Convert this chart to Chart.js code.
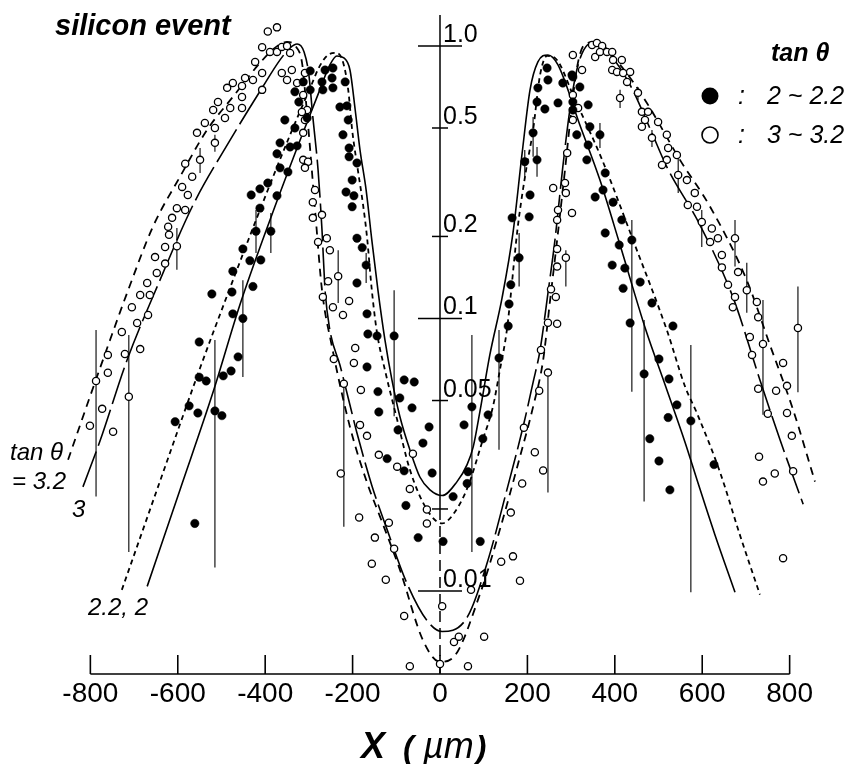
<!DOCTYPE html>
<html>
<head>
<meta charset="utf-8">
<script src="https://cdn.jsdelivr.net/npm/chart.js@4.4.1/dist/chart.umd.min.js"></script>
<style>
  html, body { margin: 0; padding: 0; background: #fff; }
  #wrap { width: 852px; height: 764px; }
</style>
</head>
<body>
<div id="wrap"><canvas id="chart" width="852" height="764"></canvas></div>
<script>
// Data: x in micrometres, y normalised (log scale)

const xTicks = [-800, -600, -400, -200, 0, 200, 400, 600, 800];
const yTicks = [1.0, 0.5, 0.2, 0.1, 0.05, 0.01];
const yTickLabels = ['1.0', '0.5', '0.2', '0.1', '0.05', '0.01'];
const yMajor = [1.0, 0.1, 0.01];
const yMinor = [0.5, 0.2, 0.05, 0.02];

// open circles: tan theta 3 ~ 3.2
const openX = [-394,-373,-407,-423,-407,-389,-373,-362,-350,-343,-339,-362,-350,-327,-313,-304,-313,-313,-302,-309,-286,-291,-291,-279,
  -407,-428,-446,-453,-474,-487,-453,-453,-480,-492,-508,-519,-515,-538,-556,-515,-549,-583,-567,-590,-577,-602,-583,-613,-622,-620,-602,-629,-652,-629,-648,-670,-686,-664,-705,-668,-693,-728,-686,-760,-721,-760,-787,-712,-773,-801,-748,
  -309,-316,-309,-270,-259,-252,-256,-233,-268,-245,-208,-222,-194,-243,-197,-220,-181,-183,-167,-227,-140,-98,-62,-69,-30,-30,-185,-117,-149,-105,-156,-124,71,5,-82,32,43,101,-69,0,64,
  231,247,227,192,217,236,188,162,140,167,183,
  304,291,286,259,288,270,268,302,268,268,288,254,265,247,268,325,304,316,304,
  348,359,371,355,366,382,394,396,416,394,405,419,435,428,453,412,462,476,469,499,462,485,519,522,542,519,508,545,565,583,567,588,599,622,636,618,645,675,645,682,659,702,675,670,725,728,709,739,819,714,785,728,769,794,750,794,805,730,739,766,808,785];
const openY = [1.13,1.17,0.99,0.874,0.796,0.951,0.951,0.992,1.0,0.943,0.816,0.796,0.75,0.731,0.661,0.582,0.48,0.382,0.376,0.357,0.296,0.267,0.234,0.191,
  0.69,0.75,0.763,0.713,0.731,0.702,0.65,0.592,0.592,0.544,0.623,0.582,0.5,0.522,0.48,0.441,0.382,0.37,0.331,0.304,0.284,0.254,0.25,0.234,0.217,0.203,0.184,0.183,0.168,0.159,0.147,0.135,0.122,0.122,0.11,0.103,0.0963,0.0892,0.0772,0.0735,0.0741,0.0632,0.059,0.0516,0.0466,0.0404,0.0384,
  0.796,0.572,0.535,0.24,0.197,0.178,0.137,0.143,0.12,0.11,0.116,0.103,0.0779,0.071,0.0687,0.0576,0.0547,0.0407,0.0371,0.027,0.0316,0.0286,0.0319,0.0237,0.0199,0.0177,0.0186,0.0178,0.0157,0.0143,0.0126,0.011,0.0101,0.0088,0.0081,0.0065,0.0068,0.0068,0.0053,0.0054,0.0053,
  0.0766,0.0633,0.0543,0.0397,0.0323,0.0277,0.0248,0.0194,0.0128,0.0134,0.0109,
  0.927,0.405,0.314,0.301,0.289,0.25,0.23,0.244,0.18,0.155,0.167,0.128,0.12,0.0965,0.0957,0.816,0.661,0.592,0.535,
  1.008,1.025,1.0,0.911,0.951,0.951,0.951,0.889,0.889,0.816,0.803,0.796,0.803,0.738,0.673,0.644,0.573,0.573,0.535,0.526,0.505,0.46,0.472,0.422,0.398,0.382,0.366,0.336,0.322,0.289,0.261,0.257,0.226,0.214,0.197,0.191,0.171,0.197,0.154,0.148,0.133,0.127,0.12,0.11,0.115,0.101,0.0855,0.0806,0.0923,0.0735,0.0687,0.0552,0.0543,0.0566,0.0447,0.045,0.0371,0.0311,0.0252,0.027,0.0275,0.0132];

// filled circles: tan theta 2 ~ 2.2
const filledX = [-297,-313,-297,-332,-323,-304,-355,-332,-366,-343,-327,-373,-366,-348,-394,-412,-432,-373,-412,-421,-387,-451,-435,-410,-474,-476,-428,-522,-474,-451,-551,
  -551,-535,-496,-478,-462,-574,-554,-606,-515,-499,-561,
  -263,-245,-270,-247,-268,-245,-217,-229,-213,-210,-222,-208,-208,-190,-201,-215,-197,-201,-190,-178,-169,-190,-167,-165,-144,-105,
  -167,-82,-59,-142,-92,-64,-140,-96,-25,-39,-121,-82,-18,30,-78,-50,7,92,73,55,64,62,110,98,135,
  245,247,224,222,240,270,281,302,213,194,222,206,165,204,181,162,158,156,
  304,320,304,304,339,343,366,313,339,336,378,373,355,396,416,378,439,410,394,423,458,419,485,435,533,
  501,467,524,542,522,574,480,501,627,526];
const filledY = [0.810,0.738,0.690,0.679,0.623,0.544,0.535,0.500,0.441,0.426,0.430,0.402,0.357,0.345,0.314,0.299,0.284,0.282,0.254,0.209,0.209,0.180,0.163,0.164,0.149,0.125,0.131,0.123,0.104,0.100,0.0820,
  0.0609,0.0590,0.0616,0.0642,0.0723,0.0478,0.0450,0.0418,0.0458,0.0440,0.0177,
  0.816,0.830,0.738,0.763,0.690,0.702,0.738,0.597,0.603,0.535,0.472,0.422,0.392,0.372,0.322,0.291,0.282,0.257,0.197,0.182,0.157,0.135,0.104,0.0877,0.0863,0.0863,
  0.0664,0.0595,0.0585,0.0539,0.0511,0.0470,0.0454,0.0390,0.0400,0.0349,0.0306,0.0276,0.0271,0.0222,0.0206,0.0157,0.0152,0.0152,0.0474,0.0407,0.0274,0.0248,0.0443,0.0362,0.0716,
  0.830,0.750,0.702,0.623,0.587,0.618,0.731,0.783,0.480,0.376,0.382,0.284,0.234,0.236,0.167,0.133,0.113,0.0938,
  0.770,0.707,0.623,0.582,0.608,0.505,0.472,0.472,0.433,0.382,0.342,0.296,0.279,0.267,0.230,0.206,0.194,0.186,0.157,0.153,0.136,0.129,0.114,0.0963,0.0938,
  0.0710,0.0626,0.0600,0.0482,0.0433,0.0421,0.0362,0.0300,0.0291,0.0235];

// vertical error bars
const openErrX  = [-602, -787, -712, -549, -515, -233, -220, 247, 288, 453, 412, 485, 545, 599, 675, 702, 739, 819];
const openErrLo = [0.151, 0.0222, 0.0139, 0.342, 0.409, 0.114, 0.0172, 0.0230, 0.131, 0.634, 0.592, 0.426, 0.289, 0.183, 0.155, 0.105, 0.0443, 0.0536];
const openErrHi = [0.215, 0.0907, 0.0870, 0.422, 0.472, 0.178, 0.0595, 0.0647, 0.178, 0.707, 0.690, 0.492, 0.405, 0.250, 0.230, 0.160, 0.117, 0.131];
const filledErrX  = [-515, -451, -421, -387, -105, -169, 73, 135, 181, 213, 194, 222, 366, 439, 467, 574];
const filledErrLo = [0.0122, 0.0610, 0.174, 0.174, 0.0438, 0.135, 0.0139, 0.0330, 0.131, 0.392, 0.331, 0.331, 0.422, 0.0538, 0.0213, 0.0099];
const filledErrHi = [0.0834, 0.138, 0.250, 0.244, 0.127, 0.174, 0.0870, 0.0907, 0.206, 0.549, 0.415, 0.426, 0.522, 0.230, 0.0987, 0.0799];

// calculated curves
const tan2X = [-670,-595,-519,-458,-389,-320,-275,-252,-236,-220,-206,-194,-183,-169,-156,-142,-126,-110,-92,-69,-46,-23,5,39,62,76,92,114,142,167,188,206,224,247,270,320,366,412,471,515,561,588,629,675];
const tan2Y = [0.0104,0.0235,0.0538,0.112,0.230,0.452,0.690,0.852,0.919,0.904,0.816,0.582,0.415,0.296,0.194,0.127,0.0834,0.0595,0.0438,0.0330,0.0262,0.0235,0.0224,0.0252,0.0291,0.0338,0.0462,0.0735,0.119,0.206,0.405,0.690,0.874,0.927,0.852,0.513,0.322,0.186,0.0907,0.0571,0.0350,0.0256,0.0161,0.0099];
const tan22X = [-728,-641,-549,-480,-412,-343,-297,-275,-256,-238,-222,-210,-201,-188,-176,-167,-156,-144,-126,-98,-69,-30,5,34,64,98,121,137,153,178,197,213,229,245,263,309,371,446,519,561,588,641,686,732];
const tan22Y = [0.0101,0.0252,0.0658,0.130,0.250,0.472,0.702,0.845,0.927,0.943,0.874,0.690,0.492,0.351,0.261,0.199,0.127,0.0884,0.0647,0.0425,0.0279,0.0199,0.0177,0.0195,0.0242,0.0359,0.0474,0.0647,0.0907,0.217,0.351,0.492,0.783,0.919,0.904,0.634,0.382,0.186,0.0907,0.0561,0.0449,0.0272,0.0161,0.0097];
const tan3X = [-817,-778,-716,-641,-565,-480,-407,-366,-343,-327,-311,-300,-291,-279,-270,-263,-252,-229,-210,-190,-156,-121,-76,-30,5,62,108,153,190,213,229,247,263,281,297,313,329,348,389,435,480,519,595,670,732,778,831];
const tan3Y = [0.0241,0.0355,0.0704,0.138,0.261,0.452,0.702,0.889,0.984,1.017,0.951,0.783,0.549,0.351,0.211,0.127,0.0907,0.0675,0.0511,0.0380,0.0244,0.0168,0.0107,0.0078,0.0071,0.0080,0.0127,0.0235,0.0400,0.0583,0.0766,0.124,0.194,0.360,0.582,0.816,0.967,1.025,0.927,0.719,0.500,0.360,0.220,0.120,0.0595,0.0359,0.0208];
const tan32X = [-851,-801,-755,-716,-657,-595,-533,-474,-412,-378,-350,-329,-316,-307,-297,-284,-270,-247,-206,-167,-137,-92,-39,0,30,92,137,183,213,236,252,268,286,302,316,332,355,412,469,549,618,702,755,808,858];
const tan32Y = [0.0303,0.0516,0.0834,0.124,0.217,0.331,0.492,0.650,0.866,0.984,1.034,0.992,0.874,0.634,0.415,0.230,0.127,0.0786,0.0400,0.0250,0.0187,0.0120,0.0066,0.0055,0.0057,0.0098,0.0168,0.0311,0.0474,0.0704,0.117,0.194,0.351,0.608,0.874,1.017,1.034,0.852,0.634,0.382,0.257,0.138,0.0799,0.0462,0.0252];

const FONT = '"Liberation Sans", Arial, Helvetica, sans-serif';

function pts(xs, ys) {
  return xs.map((x, i) => ({ x: x, y: ys[i] }));
}

function curve(xs, ys, dash, width) {
  return {
    data: pts(xs, ys),
    showLine: true,
    pointRadius: 0,
    borderColor: '#000',
    borderWidth: width,
    borderDash: dash,
    cubicInterpolationMode: 'monotone',
    fill: false,
    order: 2
  };
}

// error bars and hand-drawn axes (axis at x = 0, ticks on both sides)
const axesPlugin = {
  id: 'axes',
  beforeDatasetsDraw(chart) {
    const ctx = chart.ctx;
    const sx = chart.scales.x, sy = chart.scales.y;
    ctx.save();
    ctx.strokeStyle = '#000';
    ctx.lineWidth = 1.1;
    const bars = [[openErrX, openErrLo, openErrHi], [filledErrX, filledErrLo, filledErrHi]];
    bars.forEach(function (b) {
      b[0].forEach(function (x, i) {
        const px = sx.getPixelForValue(x);
        ctx.beginPath();
        ctx.moveTo(px, sy.getPixelForValue(b[1][i]));
        ctx.lineTo(px, sy.getPixelForValue(b[2][i]));
        ctx.stroke();
      });
    });

    // x axis
    const base = chart.chartArea.bottom;
    ctx.lineWidth = 1.6;
    ctx.beginPath();
    ctx.moveTo(sx.getPixelForValue(-800), base);
    ctx.lineTo(sx.getPixelForValue(800), base);
    ctx.stroke();
    xTicks.forEach(function (v) {
      const px = sx.getPixelForValue(v);
      ctx.beginPath();
      ctx.moveTo(px, base);
      ctx.lineTo(px, base - 19);
      ctx.stroke();
    });

    // y axis through x = 0
    const x0 = sx.getPixelForValue(0);
    ctx.lineWidth = 1.5;
    ctx.beginPath();
    ctx.moveTo(x0, sy.getPixelForValue(1.3));
    ctx.lineTo(x0, sy.getPixelForValue(0.02));
    ctx.stroke();
    ctx.setLineDash([11, 6]);
    ctx.beginPath();
    ctx.moveTo(x0, sy.getPixelForValue(0.02));
    ctx.lineTo(x0, base);
    ctx.stroke();
    ctx.setLineDash([]);
    yMajor.forEach(function (v) {
      const py = sy.getPixelForValue(v);
      ctx.beginPath();
      ctx.moveTo(x0 - 22, py);
      ctx.lineTo(x0 + 22, py);
      ctx.stroke();
    });
    yMinor.forEach(function (v) {
      const py = sy.getPixelForValue(v);
      ctx.beginPath();
      ctx.moveTo(x0 - 8, py);
      ctx.lineTo(x0 + 8, py);
      ctx.stroke();
    });
    ctx.restore();
  },
  afterDraw(chart) {
    const ctx = chart.ctx;
    const sx = chart.scales.x, sy = chart.scales.y;
    const base = chart.chartArea.bottom;
    const x0 = sx.getPixelForValue(0);
    ctx.save();
    ctx.fillStyle = '#000';

    // x tick labels
    ctx.font = '28px ' + FONT;
    ctx.textAlign = 'center';
    ctx.textBaseline = 'middle';
    xTicks.forEach(function (v) {
      ctx.fillText(String(v), sx.getPixelForValue(v), base + 20);
    });

    // y tick labels, right of the axis, sitting on the tick
    ctx.font = '25px ' + FONT;
    ctx.textAlign = 'left';
    ctx.textBaseline = 'alphabetic';
    yTicks.forEach(function (v, i) {
      ctx.fillText(yTickLabels[i], x0 + 3, sy.getPixelForValue(v) - 4);
    });

    // axis title: X (um)
    ctx.font = 'italic bold 36px ' + FONT;
    ctx.fillText('X', 361, 758);
    ctx.font = 'italic bold 32px ' + FONT;
    ctx.fillText('(', 403, 758);
    ctx.font = 'italic 36px ' + FONT;
    ctx.fillText('\u00b5m', 423, 758);
    const w = ctx.measureText('\u00b5m').width;
    ctx.font = 'italic bold 32px ' + FONT;
    ctx.fillText(')', 425 + w, 758);

    // title
    ctx.font = 'italic bold 29px ' + FONT;
    ctx.fillText('silicon event', 55, 35);

    // legend
    ctx.font = 'italic bold 25px ' + FONT;
    ctx.fillText('tan \u03b8', 771, 61);
    ctx.font = 'italic 25px ' + FONT;
    ctx.fillText(':', 738, 104);
    ctx.fillText('2 ~ 2.2', 767, 104);
    ctx.fillText(':', 738, 143);
    ctx.fillText('3 ~ 3.2', 767, 143);
    ctx.beginPath();
    ctx.arc(710, 96, 8.5, 0, Math.PI * 2);
    ctx.fill();
    ctx.lineWidth = 1.6;
    ctx.beginPath();
    ctx.arc(710, 135, 8, 0, Math.PI * 2);
    ctx.stroke();

    // curve labels
    ctx.font = 'italic 24px ' + FONT;
    ctx.fillText('tan \u03b8', 10, 460);
    ctx.fillText('= 3.2', 12, 489);
    ctx.fillText('3', 72, 517);
    ctx.fillText('2.2, 2', 88, 615);
    ctx.restore();
  }
};

const ctx = document.getElementById('chart').getContext('2d');
new Chart(ctx, {
  type: 'scatter',
  data: {
    datasets: [
      {
        data: pts(filledX, filledY),
        pointRadius: 4.2,
        pointBackgroundColor: '#000',
        pointBorderColor: '#000',
        pointBorderWidth: 0.5,
        order: 0
      },
      {
        data: pts(openX, openY),
        pointRadius: 3.6,
        pointBackgroundColor: '#fff',
        pointBorderColor: '#000',
        pointBorderWidth: 1.3,
        order: 1
      },
      curve(tan2X, tan2Y, [], 1.6),
      curve(tan22X, tan22Y, [5, 4], 1.8),
      curve(tan3X, tan3Y, [38, 6], 1.6),
      curve(tan32X, tan32Y, [8, 6], 1.8)
    ]
  },
  options: {
    responsive: false,
    animation: false,
    events: [],
    layout: { padding: { left: 55.4, right: 27.4, top: 10, bottom: 90 } },
    plugins: {
      legend: { display: false },
      tooltip: { enabled: false }
    },
    scales: {
      x: { type: 'linear', min: -880, max: 880, display: false },
      y: { type: 'logarithmic', min: 0.00496, max: 1.355, display: false }
    }
  },
  plugins: [axesPlugin]
});
</script>
</body>
</html>
